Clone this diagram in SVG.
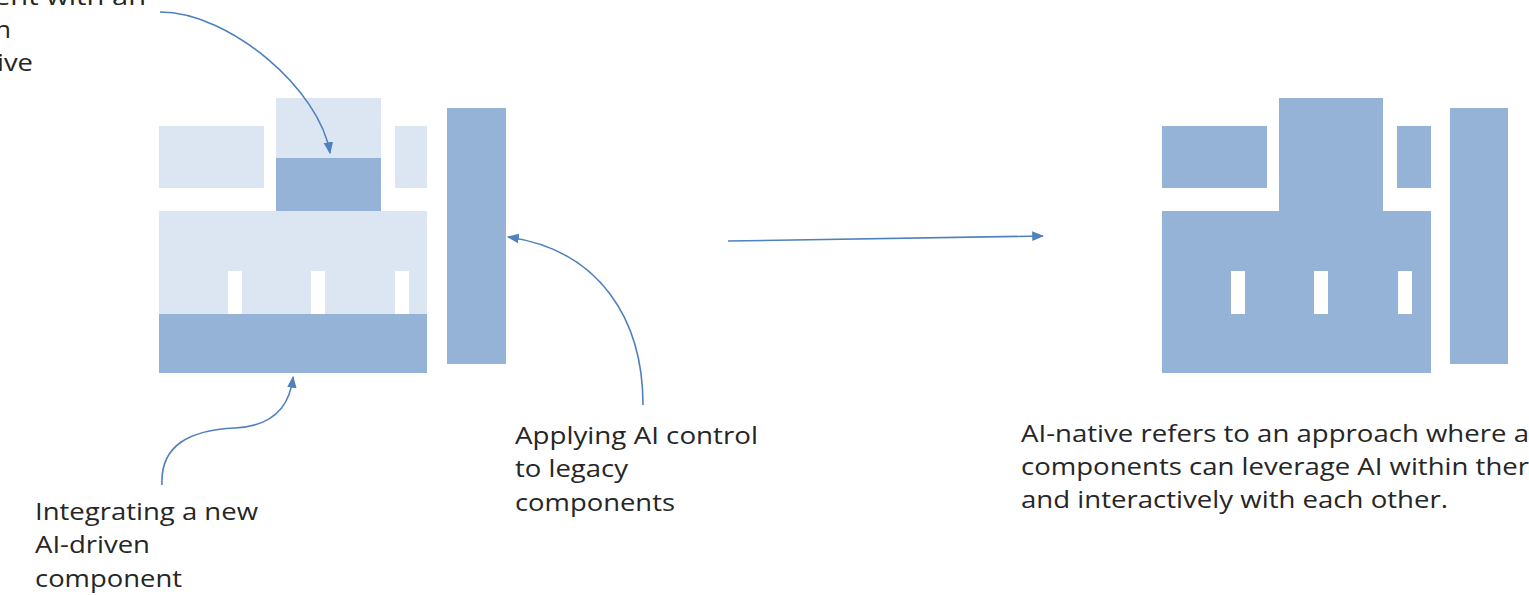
<svg xmlns="http://www.w3.org/2000/svg" width="1529" height="595" viewBox="0 0 1529 595">
  <style>
    .light { fill: #DCE6F2; }
    .dark { fill: #95B3D7; }
    .slot { fill: #FFFFFF; }
    .lbl { font-family: "Open Sans", "Noto Sans", sans-serif; font-size: 24px; fill: #262626; }
    .conn { fill: none; stroke: #4F81BD; stroke-width: 1.6; }
  </style>
  <defs>
    <marker id="ah" markerUnits="userSpaceOnUse" markerWidth="12" markerHeight="12" viewBox="0 0 10 10" refX="9" refY="5" orient="auto">
      <path d="M0,1 L10,5 L0,9 Z" fill="#4F81BD"/>
    </marker>
  </defs>

  <g id="legacy-system">
    <rect class="light" x="159" y="126" width="105" height="62"/>
    <rect class="light" x="276" y="98" width="105" height="60"/>
    <rect class="dark" x="276" y="158" width="105" height="55"/>
    <rect class="light" x="395" y="126" width="32" height="62"/>
    <rect class="light" x="159" y="211" width="268" height="103"/>
    <rect class="slot" x="228" y="271" width="14" height="43"/>
    <rect class="slot" x="311" y="271" width="14" height="43"/>
    <rect class="slot" x="395" y="271" width="14" height="43"/>
    <rect class="dark" x="159" y="314" width="268" height="59"/>
    <rect class="dark" x="447" y="108" width="59" height="256"/>
  </g>

  <g id="ai-native-system">
    <rect class="dark" x="1162" y="126" width="105" height="62"/>
    <rect class="dark" x="1279" y="98" width="104" height="114"/>
    <rect class="dark" x="1397" y="126" width="34" height="62"/>
    <rect class="dark" x="1162" y="211" width="269" height="162"/>
    <rect class="slot" x="1231" y="271" width="14" height="43"/>
    <rect class="slot" x="1314" y="271" width="14" height="43"/>
    <rect class="slot" x="1398" y="271" width="14" height="43"/>
    <rect class="dark" x="1450" y="108" width="58" height="256"/>
  </g>

  <g id="label-replace">
    <text class="lbl" x="146" y="5" text-anchor="end" textLength="152" lengthAdjust="spacingAndGlyphs">ent with an</text>
    <text class="lbl" x="11" y="38" text-anchor="end" textLength="16" lengthAdjust="spacingAndGlyphs">n</text>
    <text class="lbl" x="33" y="71" text-anchor="end" textLength="36" lengthAdjust="spacingAndGlyphs">ive</text>
  </g>
  <g id="label-integrate">
    <text class="lbl" x="35" y="520" textLength="223" lengthAdjust="spacingAndGlyphs">Integrating a new</text>
    <text class="lbl" x="35" y="553" textLength="115" lengthAdjust="spacingAndGlyphs">AI-driven</text>
    <text class="lbl" x="35" y="587" textLength="147" lengthAdjust="spacingAndGlyphs">component</text>
  </g>
  <g id="label-control">
    <text class="lbl" x="515" y="444" textLength="243" lengthAdjust="spacingAndGlyphs">Applying AI control</text>
    <text class="lbl" x="515" y="477" textLength="113" lengthAdjust="spacingAndGlyphs">to legacy</text>
    <text class="lbl" x="515" y="511" textLength="160" lengthAdjust="spacingAndGlyphs">components</text>
  </g>
  <g id="label-native">
    <text class="lbl" x="1021" y="442" textLength="508" lengthAdjust="spacingAndGlyphs">AI-native refers to an approach where a</text>
    <text class="lbl" x="1021" y="475" textLength="508" lengthAdjust="spacingAndGlyphs">components can leverage AI within ther</text>
    <text class="lbl" x="1021" y="508" textLength="427" lengthAdjust="spacingAndGlyphs">and interactively with each other.</text>
  </g>

  <g id="connectors">
    <path class="conn" marker-end="url(#ah)" d="M160,12 C230,12 320,90 330,153"/>
    <path class="conn" marker-end="url(#ah)" d="M162,485 C160,445 190,430 235,428 C275,426 290,405 293,377"/>
    <path class="conn" marker-end="url(#ah)" d="M643,405 C643,320 600,250 508,237"/>
    <path class="conn" marker-end="url(#ah)" d="M728,241 L1043,236"/>
  </g>
</svg>
